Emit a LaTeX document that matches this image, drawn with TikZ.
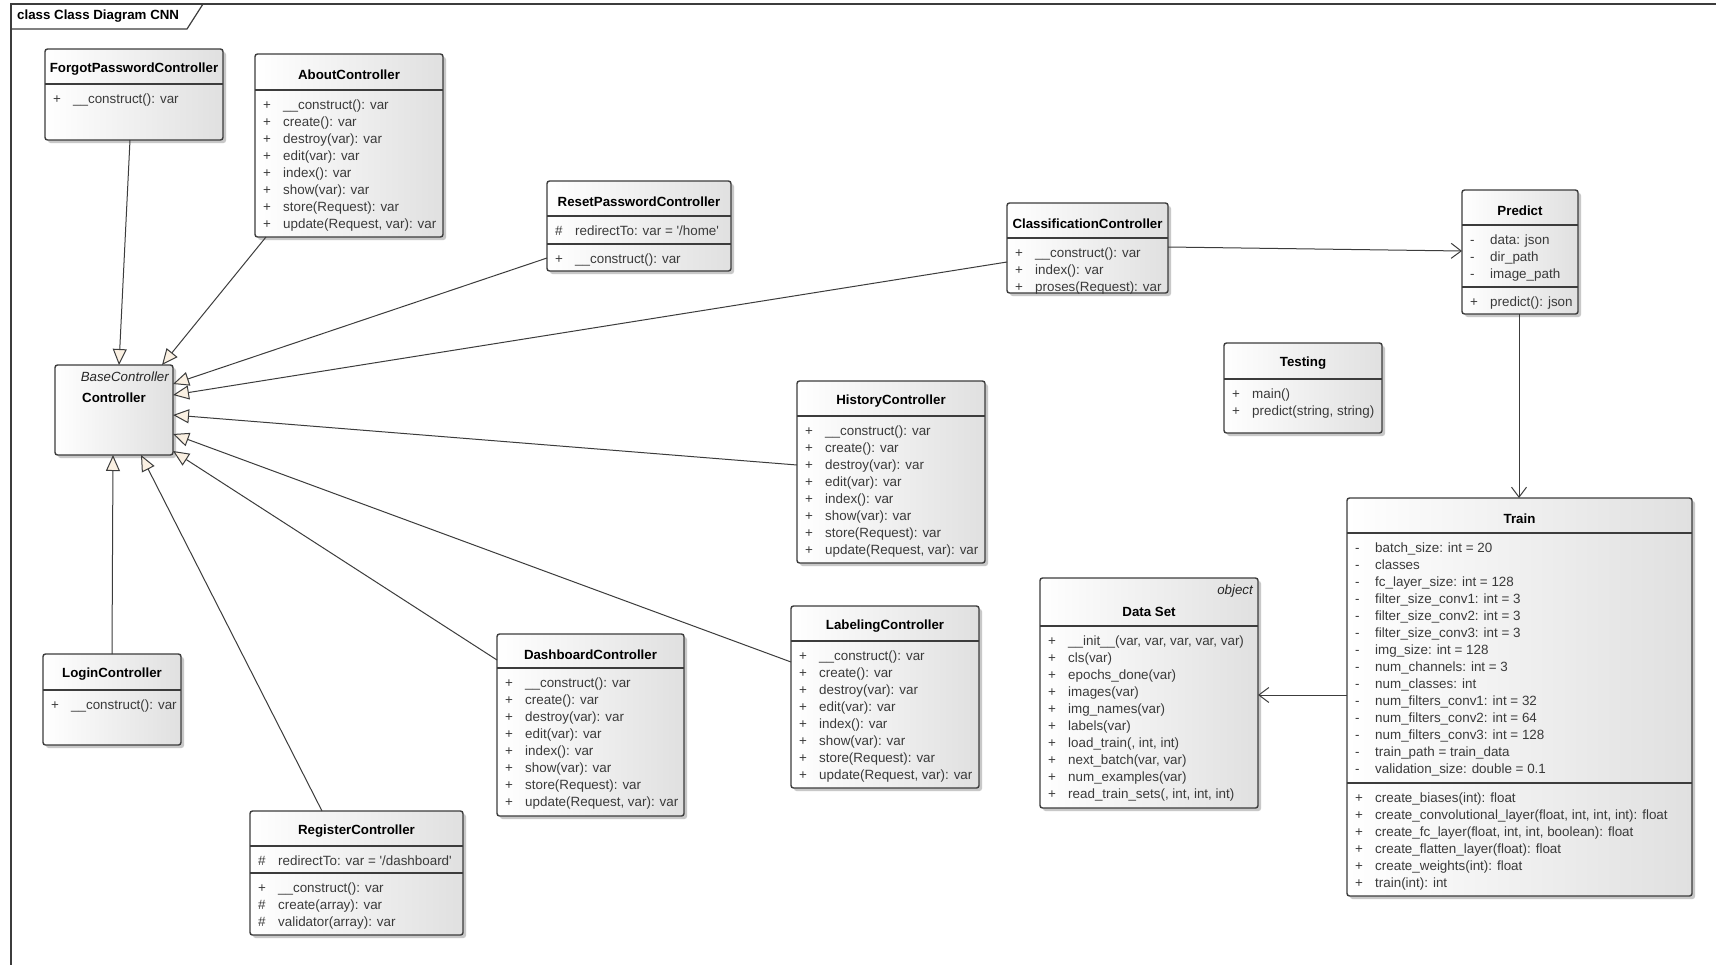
\documentclass[tikz,border=0pt]{standalone}
\usepackage{fontspec}
\setmainfont{Liberation Sans}
\usetikzlibrary{arrows.meta,shadows,calc}

\definecolor{linec}{HTML}{3C3C3C}
\definecolor{textc}{HTML}{3A3A3A}
\definecolor{genfill}{HTML}{FAF0E2}
\definecolor{boxr}{HTML}{E0E0E0}

% one member row: visibility marker in a fixed column, then the signature
\newcommand\mrow[2]{\makebox[20pt][l]{#1}#2\\}
\newcommand\mlist[1]{\begin{tabular}{@{}l@{}}#1\end{tabular}}

\tikzset{
  classbox/.style={draw=linec, line width=1.4pt, rounded corners=2.5pt,
    left color=white, right color=boxr,
    drop shadow={shadow xshift=3pt, shadow yshift=-3pt, opacity=0.3, fill=black!70},
    inner sep=0pt, outer sep=0pt, anchor=north west},
  classname/.style={font=\fontsize{13.3}{16}\selectfont\bfseries, text=black, inner sep=0pt},
  stereo/.style={font=\fontsize{13.3}{16}\selectfont\itshape, text=black!85, inner sep=0pt},
  memberlist/.style={font=\fontsize{13.4}{17}\selectfont, text=textc, inner sep=0pt, anchor=north west},
  compline/.style={draw=linec, line width=1.4pt},
  gen/.style={draw=linec, line width=1pt, -{Triangle[length=16pt, width=14pt, fill=genfill]}},
  assoc/.style={draw=linec, line width=1pt, -{Straight Barb[length=10pt, width=15pt]}},
}

% class box: name, x, y, width, height, title
\newcommand\umlclass[6]{%
  \node[classbox, minimum width=#4pt, minimum height=#5pt] (#1) at (#2,#3) {};
  \node[classname] (#1-name) at ([yshift=-20.5pt]#1.north) {#6};
}
% compartment: box name, divider offset from the top, member rows
\newcommand\umlcomp[3]{%
  \draw[compline] ([yshift=-#2pt]#1.north west) -- ([yshift=-#2pt]#1.north east);
  \node[memberlist] (#1-m#2) at ([xshift=8pt,yshift=-#2pt-7pt]#1.north west) {\mlist{#3}};
}

\begin{document}
\begin{tikzpicture}[x=1pt,y=-1pt]
\useasboundingbox (0,0) rectangle (1716,964);
\fill[white] (0,0) rectangle (1716,964);

% diagram frame with its name tab
\draw[linec, line width=1.4pt] (11,980) -- (11,4) -- (1730,4);
\draw[linec, line width=1.2pt] (11,29) -- (187,29) -- (203,4);
\node[classname, anchor=west] (frametitle) at (17,16.5) {class Class Diagram CNN};

% ---------------- classes ----------------
\umlclass{fp}{45}{49}{178}{91}{ForgotPasswordController}
\umlcomp{fp}{35}{\mrow{+}{\_\_construct(): var}}

\umlclass{about}{255}{54}{188}{183}{AboutController}
\umlcomp{about}{36}{%
  \mrow{+}{\_\_construct(): var}
  \mrow{+}{create(): var}
  \mrow{+}{destroy(var): var}
  \mrow{+}{edit(var): var}
  \mrow{+}{index(): var}
  \mrow{+}{show(var): var}
  \mrow{+}{store(Request): var}
  \mrow{+}{update(Request, var): var}}

\umlclass{reset}{547}{181}{184}{90}{ResetPasswordController}
\umlcomp{reset}{35}{\mrow{\#}{redirectTo: var = \textquotesingle/home\textquotesingle}}
\umlcomp{reset}{63}{\mrow{+}{\_\_construct(): var}}

\umlclass{classif}{1007}{203}{161}{90}{ClassificationController}
\umlcomp{classif}{35}{%
  \mrow{+}{\_\_construct(): var}
  \mrow{+}{index(): var}
  \mrow{+}{proses(Request): var}}

\umlclass{predict}{1462}{190}{116}{124}{Predict}
\umlcomp{predict}{35}{%
  \mrow{-}{data: json}
  \mrow{-}{dir\_path}
  \mrow{-}{image\_path}}
\umlcomp{predict}{97}{\mrow{+}{predict(): json}}

\umlclass{testing}{1224}{343}{158}{90}{Testing}
\umlcomp{testing}{36}{%
  \mrow{+}{main()}
  \mrow{+}{predict(string, string)}}

\umlclass{history}{797}{381}{188}{182}{HistoryController}
\umlcomp{history}{35}{%
  \mrow{+}{\_\_construct(): var}
  \mrow{+}{create(): var}
  \mrow{+}{destroy(var): var}
  \mrow{+}{edit(var): var}
  \mrow{+}{index(): var}
  \mrow{+}{show(var): var}
  \mrow{+}{store(Request): var}
  \mrow{+}{update(Request, var): var}}

% abstract parent class
\node[classbox, minimum width=118pt, minimum height=90pt] (base) at (55,365) {};
\node[stereo, anchor=east] (base-stereo) at ([xshift=-4pt,yshift=-12pt]base.north east) {BaseController};
\node[classname] (base-name) at ([yshift=-33pt]base.north) {Controller};

\umlclass{train}{1347}{498}{345}{398}{Train}
\umlcomp{train}{35}{%
  \mrow{-}{batch\_size: int = 20}
  \mrow{-}{classes}
  \mrow{-}{fc\_layer\_size: int = 128}
  \mrow{-}{filter\_size\_conv1: int = 3}
  \mrow{-}{filter\_size\_conv2: int = 3}
  \mrow{-}{filter\_size\_conv3: int = 3}
  \mrow{-}{img\_size: int = 128}
  \mrow{-}{num\_channels: int = 3}
  \mrow{-}{num\_classes: int}
  \mrow{-}{num\_filters\_conv1: int = 32}
  \mrow{-}{num\_filters\_conv2: int = 64}
  \mrow{-}{num\_filters\_conv3: int = 128}
  \mrow{-}{train\_path = train\_data}
  \mrow{-}{validation\_size: double = 0.1}}
\umlcomp{train}{285}{%
  \mrow{+}{create\_biases(int): float}
  \mrow{+}{create\_convolutional\_layer(float, int, int, int): float}
  \mrow{+}{create\_fc\_layer(float, int, int, boolean): float}
  \mrow{+}{create\_flatten\_layer(float): float}
  \mrow{+}{create\_weights(int): float}
  \mrow{+}{train(int): int}}

\node[classbox, minimum width=218pt, minimum height=230pt] (dataset) at (1040,578) {};
\node[stereo, anchor=east] (dataset-stereo) at ([xshift=-5pt,yshift=-13pt]dataset.north east) {object};
\node[classname] (dataset-name) at ([yshift=-34pt]dataset.north) {Data Set};
\umlcomp{dataset}{48}{%
  \mrow{+}{\_\_init\_\_(var, var, var, var, var)}
  \mrow{+}{cls(var)}
  \mrow{+}{epochs\_done(var)}
  \mrow{+}{images(var)}
  \mrow{+}{img\_names(var)}
  \mrow{+}{labels(var)}
  \mrow{+}{load\_train(, int, int)}
  \mrow{+}{next\_batch(var, var)}
  \mrow{+}{num\_examples(var)}
  \mrow{+}{read\_train\_sets(, int, int, int)}}

\umlclass{labeling}{791}{606}{188}{182}{LabelingController}
\umlcomp{labeling}{35}{%
  \mrow{+}{\_\_construct(): var}
  \mrow{+}{create(): var}
  \mrow{+}{destroy(var): var}
  \mrow{+}{edit(var): var}
  \mrow{+}{index(): var}
  \mrow{+}{show(var): var}
  \mrow{+}{store(Request): var}
  \mrow{+}{update(Request, var): var}}

\umlclass{dashboard}{497}{634}{187}{182}{DashboardController}
\umlcomp{dashboard}{34}{%
  \mrow{+}{\_\_construct(): var}
  \mrow{+}{create(): var}
  \mrow{+}{destroy(var): var}
  \mrow{+}{edit(var): var}
  \mrow{+}{index(): var}
  \mrow{+}{show(var): var}
  \mrow{+}{store(Request): var}
  \mrow{+}{update(Request, var): var}}

\umlclass{login}{43}{654}{138}{91}{LoginController}
\umlcomp{login}{36}{\mrow{+}{\_\_construct(): var}}

\umlclass{register}{250}{811}{213}{124}{RegisterController}
\umlcomp{register}{35}{\mrow{\#}{redirectTo: var = \textquotesingle/dashboard\textquotesingle}}
\umlcomp{register}{62}{%
  \mrow{+}{\_\_construct(): var}
  \mrow{\#}{create(array): var}
  \mrow{\#}{validator(array): var}}

% ---------------- generalizations to the base controller ----------------
\draw[gen] ([xshift=85pt]fp.south west) -- ([xshift=64pt]base.north west);
\draw[gen] ([xshift=11pt]about.south west) -- ([xshift=107pt]base.north west);
\draw[gen] ([yshift=-77pt]reset.north west) -- ([yshift=-19pt]base.north east);
\draw[gen] ([yshift=-59pt]classif.north west) -- ([yshift=-30pt]base.north east);
\draw[gen] ([yshift=-84pt]history.north west) -- ([yshift=-50pt]base.north east);
\draw[gen] ([yshift=-56pt]labeling.north west) -- ([yshift=-69pt]base.north east);
\draw[gen] ([yshift=-26pt]dashboard.north west) -- ([yshift=-86pt]base.north east);
\draw[gen] ([xshift=69pt]login.north west) -- ([xshift=58pt]base.south west);
\draw[gen] ([xshift=72pt]register.north west) -- ([xshift=86pt]base.south west);

% ---------------- associations ----------------
\draw[assoc] ([yshift=-44pt]classif.north east) -- ([yshift=-61pt]predict.north west);
\draw[assoc] ([xshift=57pt]predict.south west) -- ([xshift=172pt]train.north west);
\draw[assoc] ([yshift=-197pt]train.north west) -- ([yshift=-117pt]dataset.north east);
\end{tikzpicture}
\end{document}
